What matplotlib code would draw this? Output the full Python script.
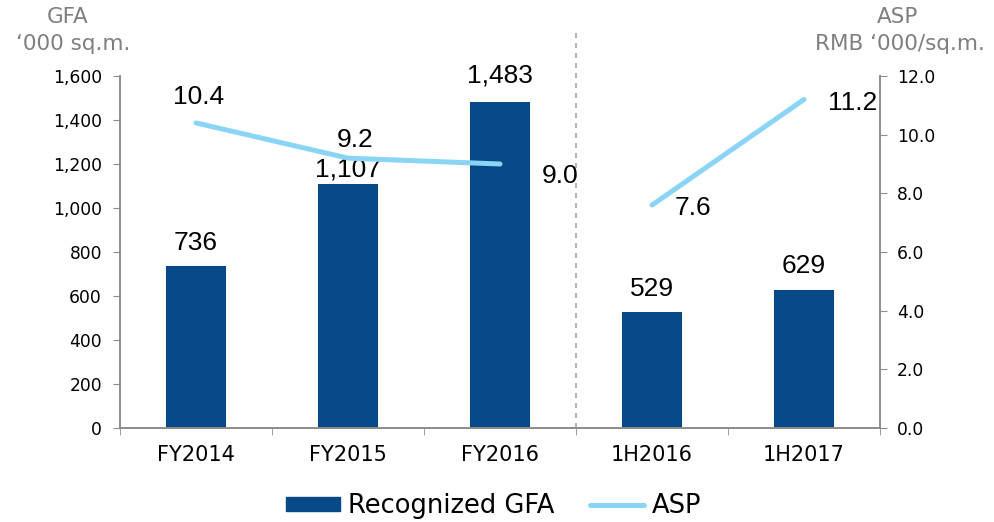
import matplotlib
matplotlib.use("Agg")
import matplotlib.pyplot as plt
import numpy as np
from matplotlib.patches import Patch
from matplotlib.lines import Line2D

categories = ["FY2014", "FY2015", "FY2016", "1H2016", "1H2017"]
gfa = [736, 1107, 1483, 529, 629]
asp = [10.4, 9.2, 9.0, 7.6, 11.2]
gfa_labels = ["736", "1,107", "1,483", "529", "629"]
asp_labels = ["10.4", "9.2", "9.0", "7.6", "11.2"]
left_ticks = [0, 200, 400, 600, 800, 1000, 1200, 1400, 1600]
right_ticks = [0, 2, 4, 6, 8, 10, 12]

BAR = "#054a86"
LINE = "#8ad4f6"
SPINE = "#8c8c8c"
GREY = "#7f7f7f"
TICKFONT = "DejaVu Sans"
NUMFONT = "Liberation Sans"

fig = plt.figure(figsize=(9.94, 5.22), dpi=100)
W, H = 994, 522
ax = fig.add_axes([120 / W, (H - 428) / H, 760 / W, 352 / H])
ax2 = ax.twinx()

x = np.arange(len(categories))
ax.bar(x, gfa, width=0.4, color=BAR, zorder=2)
ax.set_xlim(-0.5, len(categories) - 0.5)
ax.set_ylim(0, 1600)
ax.set_yticks(left_ticks)
ax.set_yticklabels([f"{v:,}" for v in left_ticks], fontfamily=TICKFONT, fontsize=12.3)
ax.set_xticks(x)
ax.set_xticklabels(categories, fontfamily=TICKFONT, fontsize=15)
ax.set_xticks(np.arange(-0.5, len(categories)), minor=True)
ax.tick_params(axis="x", which="major", length=0, pad=12)
ax.tick_params(axis="x", which="minor", length=5, color=SPINE, direction="out")
ax.tick_params(axis="y", length=5, color=SPINE, direction="out", pad=8)

for a in (ax, ax2):
    a.spines["top"].set_visible(False)
    for s in ("left", "right", "bottom"):
        a.spines[s].set_color(SPINE)
        a.spines[s].set_linewidth(1.2)

ax2.set_ylim(0, 12)
ax2.set_yticks(right_ticks)
ax2.set_yticklabels([f"{v:.1f}" for v in right_ticks], fontfamily=TICKFONT, fontsize=12.3)
ax2.tick_params(axis="y", length=5, color=SPINE, direction="out", pad=7)

ax2.plot(x[:3], asp[:3], color=LINE, lw=3.6, solid_capstyle="round", zorder=3)
ax2.plot(x[3:], asp[3:], color=LINE, lw=3.6, solid_capstyle="round", zorder=3)

gfa_dy = [11.5, 5.4, 14, 11.5, 12]
for xi, v, lab, dy in zip(x, gfa, gfa_labels, gfa_dy):
    ax.annotate(lab, (xi, v), xytext=(0, dy), textcoords="offset points",
                ha="center", va="baseline", fontfamily=NUMFONT, fontsize=19)

asp_offsets = [(2, 13.7), (5, 8), (43, -13.7), (29.5, -7.2), (35, -7.5)]
for xi, v, lab, (dx, dy) in zip(x, asp, asp_labels, asp_offsets):
    ax2.annotate(lab, (xi, v), xytext=(dx, dy), textcoords="offset points",
                 ha="center", va="baseline", fontfamily=NUMFONT, fontsize=19, zorder=5)

# divider
ax.axvline(2.5, ymin=0, ymax=(428 - 30) / 352, color="#a6a6a6", lw=1.2,
           ls=(0, (3, 3)), clip_on=False, zorder=1)

# axis titles
fig.text(68 / W, 1 - 17 / H, "GFA", ha="center", va="center", color=GREY,
         fontfamily=TICKFONT, fontsize=15.5)
fig.text(73 / W, 1 - 44 / H, "\u2018000 sq.m.", ha="center", va="center", color=GREY,
         fontfamily=TICKFONT, fontsize=15.5)
fig.text(898 / W, 1 - 17 / H, "ASP", ha="center", va="center", color=GREY,
         fontfamily=TICKFONT, fontsize=15.5)
fig.text(985 / W, 1 - 44 / H, "RMB \u2018000/sq.m.", ha="right", va="center", color=GREY,
         fontfamily=TICKFONT, fontsize=15.5)

handles = [Patch(color=BAR, label="Recognized GFA"),
           Line2D([0], [0], color=LINE, lw=3.6, label="ASP", solid_capstyle="round")]
fig.legend(handles=handles, loc="center", bbox_to_anchor=(494 / W, 1 - 506 / H),
           ncol=2, frameon=False, prop={"family": TICKFONT, "size": 18.5},
           handlelength=2.1, handleheight=0.5, columnspacing=1.4, handletextpad=0.3)

fig.savefig("out.png", dpi=100)
